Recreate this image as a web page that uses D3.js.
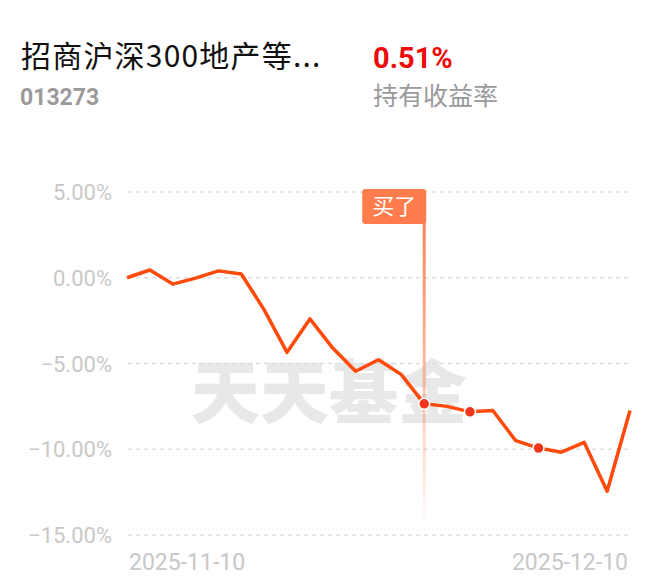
<!DOCTYPE html>
<html>
<head>
<meta charset="utf-8">
<script src="https://cdn.jsdelivr.net/npm/d3@7"></script>
<style>
    body { margin: 0; background: #fff; }
    svg { display: block; }
</style>
</head>
<body>
<div id="svgContainer"></div>
<script>
// fund info
const fundName = "招商沪深300地产等...";
const fundCode = "013273";
const holdReturn = "0.51%";
const holdReturnLabel = "持有收益率";

// trading days and cumulative return (%)
const dates = ["2025-11-10", "2025-11-11", "2025-11-12", "2025-11-13", "2025-11-14",
    "2025-11-17", "2025-11-18", "2025-11-19", "2025-11-20", "2025-11-21",
    "2025-11-24", "2025-11-25", "2025-11-26", "2025-11-27", "2025-11-28",
    "2025-12-01", "2025-12-02", "2025-12-03", "2025-12-04", "2025-12-05",
    "2025-12-08", "2025-12-09", "2025-12-10"];
const values = [0.00, 0.45, -0.37, -0.02, 0.40, 0.22, -1.87, -4.35, -2.40, -4.10,
    -5.45, -4.78, -5.65, -7.35, -7.50, -7.82, -7.74, -9.50, -9.93, -10.17,
    -9.60, -12.45, -7.74];

const yTicks = [5, 0, -5, -10, -15];
const xTickLabels = ["2025-11-10", "2025-12-10"];
const markedDates = ["2025-11-27", "2025-12-01", "2025-12-04"];
const buyDate = "2025-11-27";
const buyLabel = "买了";
const watermark = "天天基金";

const width = 660, height = 585;
const cjk = "'Noto Sans CJK SC', 'Noto Sans', sans-serif";
const num = "Roboto, 'Noto Sans', sans-serif";

let svg = d3.select("#svgContainer").append("svg")
    .attr("width", width)
    .attr("height", height);

// header
svg.append("text")
    .attr("x", 21).attr("y", 67)
    .style("font-family", cjk).style("font-size", "30px")
    .style("letter-spacing", "1.2px")
    .attr("fill", "#111")
    .text(fundName);
svg.append("text")
    .attr("x", 20).attr("y", 105)
    .style("font-family", num).style("font-size", "23px").style("font-weight", "bold")
    .attr("fill", "#9a9a9a")
    .text(fundCode);
svg.append("text")
    .attr("x", 373).attr("y", 68)
    .style("font-family", num).style("font-size", "29px").style("font-weight", "bold")
    .attr("fill", "#ee0a0a")
    .text(holdReturn);
svg.append("text")
    .attr("x", 373).attr("y", 105)
    .style("font-family", cjk).style("font-size", "25px")
    .attr("fill", "#999")
    .text(holdReturnLabel);

let x = d3.scalePoint().domain(dates).range([127, 630]);
let y = d3.scaleLinear().domain([-15, 5]).range([535, 192]);

// watermark
svg.append("text")
    .attr("x", 329).attr("y", 418)
    .attr("text-anchor", "middle")
    .style("font-family", cjk).style("font-size", "69px").style("font-weight", "900")
    .attr("fill", "#e8e8e8")
    .text(watermark);

// grid
svg.append("g").selectAll("line")
    .data(yTicks)
    .join("line")
    .attr("x1", 128).attr("x2", 628)
    .attr("y1", d => y(d)).attr("y2", d => y(d))
    .attr("stroke", "#dedede")
    .attr("stroke-width", 1.5)
    .attr("stroke-dasharray", "4,4");

svg.append("g").selectAll("text")
    .data(yTicks)
    .join("text")
    .attr("x", 112)
    .attr("y", d => y(d) + 8)
    .attr("text-anchor", "end")
    .style("font-family", num).style("font-size", "22px")
    .attr("fill", "#c8c8c8")
    .text(d => d3.format(".2f")(d).replace("-", "–") + "%");

svg.append("g").selectAll("text")
    .data(xTickLabels)
    .join("text")
    .attr("x", (d, i) => i === 0 ? 129 : 628)
    .attr("y", 570)
    .attr("text-anchor", (d, i) => i === 0 ? "start" : "end")
    .style("font-family", num).style("font-size", "23px")
    .attr("fill", "#c8c8c8")
    .text(d => d);

// buy marker line
let grad = svg.append("defs").append("linearGradient")
    .attr("id", "buyGrad")
    .attr("x1", 0).attr("y1", 0).attr("x2", 0).attr("y2", 1);
grad.append("stop").attr("offset", "0%").attr("stop-color", "#ff7a4a").attr("stop-opacity", 0.95);
grad.append("stop").attr("offset", "100%").attr("stop-color", "#ff7a4a").attr("stop-opacity", 0.0);

let bx = x(buyDate);
svg.append("rect")
    .attr("x", bx - 1.5).attr("y", 222)
    .attr("width", 3).attr("height", 310)
    .attr("fill", "url(#buyGrad)");
svg.append("rect")
    .attr("x", bx - 62).attr("y", 189)
    .attr("width", 64).attr("height", 35)
    .attr("rx", 3)
    .attr("fill", "#ff7d4d");
svg.append("text")
    .attr("x", bx - 30).attr("y", 214)
    .attr("text-anchor", "middle")
    .style("font-family", cjk).style("font-size", "22px")
    .attr("fill", "#fff")
    .text(buyLabel);

// line
let line = d3.line()
    .x((d, i) => x(dates[i]))
    .y(d => y(d));
svg.append("path")
    .datum(values)
    .attr("d", line)
    .attr("fill", "none")
    .attr("stroke", "#ff4a0a")
    .attr("stroke-width", 3.5)
    .attr("stroke-linejoin", "round");

svg.append("g").selectAll("circle")
    .data(markedDates)
    .join("circle")
    .attr("cx", d => x(d))
    .attr("cy", d => y(values[dates.indexOf(d)]))
    .attr("r", 5.5)
    .attr("fill", "#f2351a")
    .attr("stroke", "#fff")
    .attr("stroke-width", 1.5);
</script>
</body>
</html>
